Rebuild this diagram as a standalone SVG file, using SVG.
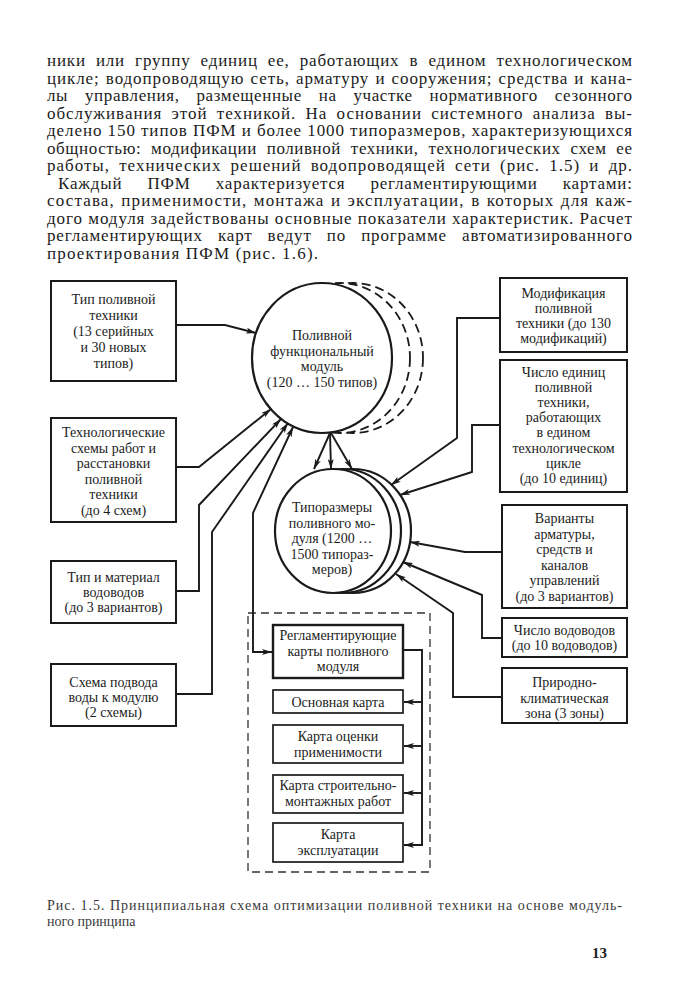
<svg xmlns="http://www.w3.org/2000/svg" width="687" height="1000" viewBox="0 0 687 1000">
<defs>
<style>
.body{font-family:"Liberation Serif","Times New Roman",serif;font-size:17px;fill:#1c1c1c}
.t{font-family:"Liberation Serif","Times New Roman",serif;font-size:14px;fill:#1c1c1c;text-anchor:middle}
.cap{font-family:"Liberation Serif","Times New Roman",serif;font-size:14px;fill:#3a3a3a}
.box{fill:#fff;stroke:#1a1a1a;stroke-width:2}
.thin{fill:#fff;stroke:#1a1a1a;stroke-width:1.7}
.circ{fill:#fff;stroke:#1a1a1a;stroke-width:2.2}
.dcirc{fill:#fff;stroke:#1a1a1a;stroke-width:1.8;stroke-dasharray:9 5}
.ln{fill:none;stroke:#1a1a1a;stroke-width:1.9;stroke-linejoin:miter}
.dash{fill:none;stroke:#333;stroke-width:1.3;stroke-dasharray:8 5}
</style>
<marker id="ah" viewBox="0 0 10 6" refX="10" refY="3" markerWidth="11" markerHeight="6" markerUnits="userSpaceOnUse" orient="auto-start-reverse">
<path d="M0,0 L10,3 L0,6 L2.5,3 z" fill="#1a1a1a"/>
</marker>
</defs>
<rect width="687" height="1000" fill="#fff"/>

<g id="body-text" class="body">
<text x="47" y="66" textLength="585" lengthAdjust="spacing" word-spacing="5">ники или группу единиц ее, работающих в едином технологическом</text>
<text x="47" y="83.5" textLength="585" lengthAdjust="spacing" word-spacing="1">цикле; водопроводящую сеть, арматуру и сооружения; средства и кана-</text>
<text x="47" y="101" textLength="585" lengthAdjust="spacing" word-spacing="12">лы управления, размещенные на участке нормативного сезонного</text>
<text x="47" y="118.5" textLength="585" lengthAdjust="spacing" word-spacing="4">обслуживания этой техникой. На основании системного анализа вы-</text>
<text x="47" y="136" textLength="585" lengthAdjust="spacing">делено 150 типов ПФМ и более 1000 типоразмеров, характеризующихся</text>
<text x="47" y="153.5" textLength="585" lengthAdjust="spacing" word-spacing="5">общностью: модификации поливной техники, технологических схем ее</text>
<text x="47" y="171" textLength="585" lengthAdjust="spacing" word-spacing="4">работы, технических решений водопроводящей сети (рис. 1.5) и др.</text>
<text x="58" y="188.5" textLength="574" lengthAdjust="spacing" word-spacing="20">Каждый ПФМ характеризуется регламентирующими картами:</text>
<text x="47" y="206" textLength="585" lengthAdjust="spacing" word-spacing="1">состава, применимости, монтажа и эксплуатации, в которых для каж-</text>
<text x="47" y="223.5" textLength="585" lengthAdjust="spacing">дого модуля задействованы основные показатели характеристик. Расчет</text>
<text x="47" y="241" textLength="585" lengthAdjust="spacing" word-spacing="10">регламентирующих карт ведут по программе автоматизированного</text>
<text x="47" y="258.5" textLength="271" lengthAdjust="spacing">проектирования ПФМ (рис. 1.6).</text>
</g>

<g id="node-module">
<ellipse class="dcirc" cx="353" cy="358" rx="70" ry="75"/>
<ellipse class="dcirc" cx="340" cy="358" rx="70" ry="75"/>
<ellipse class="circ" cx="322" cy="358" rx="70" ry="75"/>
<text class="t" x="322" y="340">Поливной</text>
<text class="t" x="322" y="355.5">функциональный</text>
<text class="t" x="322" y="371">модуль</text>
<text class="t" x="322" y="386.5">(120 … 150 типов)</text>
</g>

<g id="node-sizes">
<ellipse class="circ" cx="353" cy="531" rx="58" ry="62"/>
<ellipse class="circ" cx="343" cy="531" rx="58" ry="62"/>
<ellipse class="circ" cx="333" cy="531" rx="58" ry="62"/>
<text class="t" x="332" y="512">Типоразмеры</text>
<text class="t" x="332" y="527.5">поливного мо-</text>
<text class="t" x="332" y="543">дуля (1200 …</text>
<text class="t" x="332" y="558.5">1500 типораз-</text>
<text class="t" x="332" y="574">меров)</text>
</g>

<g id="node-type">
<rect class="box" x="51" y="281" width="125" height="100"/>
<text class="t" x="113.5" y="304">Тип поливной</text>
<text class="t" x="113.5" y="320">техники</text>
<text class="t" x="113.5" y="336">(13 серийных</text>
<text class="t" x="113.5" y="352">и 30 новых</text>
<text class="t" x="113.5" y="368">типов)</text>
</g>

<g id="node-schemes">
<rect class="box" x="51" y="418" width="125" height="104"/>
<text class="t" x="113.5" y="437">Технологические</text>
<text class="t" x="113.5" y="452.5">схемы работ и</text>
<text class="t" x="113.5" y="468">расстановки</text>
<text class="t" x="113.5" y="483.5">поливной</text>
<text class="t" x="113.5" y="499">техники</text>
<text class="t" x="113.5" y="514.5">(до 4 схем)</text>
</g>

<g id="node-pipes-material">
<rect class="box" x="51" y="561" width="125" height="62"/>
<text class="t" x="113.5" y="582">Тип и материал</text>
<text class="t" x="113.5" y="597">водоводов</text>
<text class="t" x="113.5" y="612">(до 3 вариантов)</text>
</g>

<g id="node-supply">
<rect class="box" x="51" y="664" width="125" height="62"/>
<text class="t" x="113.5" y="687">Схема подвода</text>
<text class="t" x="113.5" y="702">воды к модулю</text>
<text class="t" x="113.5" y="717">(2 схемы)</text>
</g>

<g id="node-modification">
<rect class="box" x="500" y="278" width="127" height="74"/>
<text class="t" x="563.5" y="298">Модификация</text>
<text class="t" x="563.5" y="313">поливной</text>
<text class="t" x="563.5" y="328">техники (до 130</text>
<text class="t" x="563.5" y="343">модификаций)</text>
</g>

<g id="node-units">
<rect class="box" x="500" y="360" width="127" height="132"/>
<text class="t" x="563.5" y="377">Число единиц</text>
<text class="t" x="563.5" y="392">поливной</text>
<text class="t" x="563.5" y="407">техники,</text>
<text class="t" x="563.5" y="422">работающих</text>
<text class="t" x="563.5" y="437">в едином</text>
<text class="t" x="563.5" y="452.5">технологическом</text>
<text class="t" x="563.5" y="468">цикле</text>
<text class="t" x="563.5" y="483">(до 10 единиц)</text>
</g>

<g id="node-fittings">
<rect class="box" x="502" y="505" width="125" height="103"/>
<text class="t" x="564.5" y="523">Варианты</text>
<text class="t" x="564.5" y="538.5">арматуры,</text>
<text class="t" x="564.5" y="554">средств и</text>
<text class="t" x="564.5" y="569.5">каналов</text>
<text class="t" x="564.5" y="585">управлений</text>
<text class="t" x="564.5" y="600.5">(до 3 вариантов)</text>
</g>

<g id="node-pipes-count">
<rect class="box" x="502" y="618" width="125" height="39"/>
<text class="t" x="564.5" y="635">Число водоводов</text>
<text class="t" x="564.5" y="650">(до 10 водоводов)</text>
</g>

<g id="node-climate">
<rect class="box" x="502" y="668" width="125" height="55"/>
<text class="t" x="564.5" y="687">Природно-</text>
<text class="t" x="564.5" y="702.5">климатическая</text>
<text class="t" x="564.5" y="718">зона (3 зоны)</text>
</g>

<g id="node-cards-group">
<rect class="dash" x="248" y="613" width="182" height="259"/>
</g>

<g id="node-cards">
<rect class="box" x="273" y="625" width="130" height="53" style="stroke-width:2.4"/>
<text class="t" x="338" y="640">Регламентирующие</text>
<text class="t" x="338" y="656">карты поливного</text>
<text class="t" x="338" y="671">модуля</text>
</g>

<g id="node-main-card">
<rect class="thin" x="273" y="690" width="130" height="23"/>
<text class="t" x="338" y="706.5">Основная карта</text>
</g>

<g id="node-applicability">
<rect class="thin" x="273" y="725" width="130" height="38"/>
<text class="t" x="338" y="741">Карта оценки</text>
<text class="t" x="338" y="756.5">применимости</text>
</g>

<g id="node-construction">
<rect class="thin" x="273" y="775" width="130" height="38"/>
<text class="t" x="338" y="790">Карта строительно-</text>
<text class="t" x="338" y="806">монтажных работ</text>
</g>

<g id="node-operation">
<rect class="thin" x="273" y="823" width="130" height="39"/>
<text class="t" x="338" y="839">Карта</text>
<text class="t" x="338" y="855">эксплуатации</text>
</g>

<g id="connectors" class="ln">
<path d="M176,325 H225 L256,333" marker-end="url(#ah)"/>
<path d="M176,467 H199 L271,409" marker-end="url(#ah)"/>
<path d="M176,591 H199 V505 L281,419" marker-end="url(#ah)"/>
<path d="M176,694 H212 V532 L288,423" marker-end="url(#ah)"/>
<path d="M293,427 L253,513 V652 H272" marker-start="url(#ah)" marker-end="url(#ah)"/>
<path d="M330,433 L314,469" marker-end="url(#ah)"/>
<path d="M330,433 L331,469" marker-end="url(#ah)"/>
<path d="M331,433 L352,469" marker-end="url(#ah)"/>
<path d="M500,318 H457 V438 L391,485" marker-end="url(#ah)"/>
<path d="M500,425 H472 V472 L400,495" marker-end="url(#ah)"/>
<path d="M502,552 H465 L410,542" marker-end="url(#ah)"/>
<path d="M502,638 H482 V595 L403,562" marker-end="url(#ah)"/>
<path d="M502,697 H453 V613 L396,574" marker-end="url(#ah)"/>
<path d="M403,650 H422 V845 H404" marker-end="url(#ah)"/>
<path d="M422,702 H404" marker-end="url(#ah)"/>
<path d="M422,746 H404" marker-end="url(#ah)"/>
<path d="M422,793 H404" marker-end="url(#ah)"/>
</g>

<g id="caption" class="cap">
<text x="47" y="910" textLength="575" lengthAdjust="spacing">Рис. 1.5. Принципиальная схема оптимизации поливной техники на основе модуль-</text>
<text x="47" y="926">ного принципа</text>
</g>
<text x="592" y="958" style="font-family:'Liberation Serif','Times New Roman',serif;font-size:15px;font-weight:bold;fill:#1c1c1c">13</text>
</svg>
